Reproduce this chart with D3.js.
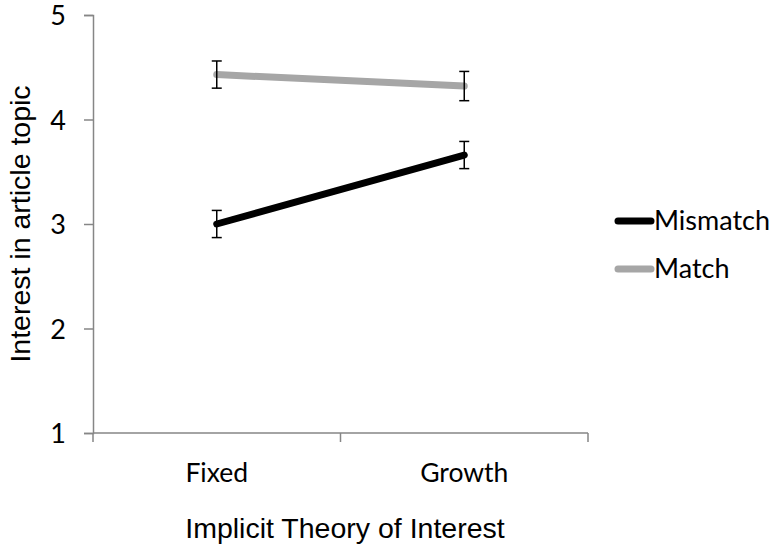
<!DOCTYPE html>
<html>
<head>
<meta charset="utf-8">
<script src="https://cdn.jsdelivr.net/npm/d3@7"></script>
<style>
  body { margin: 0; background: white; }
  text { fill: #000; }
</style>
</head>
<body>
<svg id="chart" width="773" height="548"></svg>
<script>
// chart values
const categories = ['Fixed', 'Growth']
const seriesNames = ['Mismatch', 'Match']
const mismatchMeans = [3.0, 3.66]
const mismatchErrors = [0.13, 0.13]
const matchMeans = [4.43, 4.32]
const matchErrors = [0.13, 0.14]
const yTicks = [1, 2, 3, 4, 5]

const series = [
  { name: seriesNames[0], means: mismatchMeans, errors: mismatchErrors, color: '#000000' },
  { name: seriesNames[1], means: matchMeans, errors: matchErrors, color: '#a6a6a6' }
]

const svg = d3.select('#chart')
const plotLeft = 93
const plotRight = 588
const plotTop = 15
const plotBottom = 433
const labelFont = 'Lato, sans-serif'
const titleFont = "'Liberation Sans', Arial, sans-serif"

const x = d3.scaleBand().domain(categories).range([plotLeft, plotRight])
const y = d3.scaleLinear().domain([1, 5]).range([plotBottom, plotTop])
const axisColor = '#868686'

// y axis
const yAxis = svg.append('g')
  .attr('transform', `translate(${plotLeft},0)`)
  .call(d3.axisLeft(y).tickValues(yTicks).tickSize(9).tickPadding(18).tickFormat(d3.format('d')))
yAxis.select('.domain').attr('stroke', axisColor).attr('stroke-width', 1.5)
yAxis.selectAll('.tick line').attr('stroke', axisColor).attr('stroke-width', 1.5)
yAxis.selectAll('.tick text')
  .attr('font-size', 27)
  .attr('font-family', labelFont)
  .attr('fill', '#000')
  .attr('dy', '0.36em')

// x axis, ticks on the band edges
const xAxis = svg.append('g').attr('transform', `translate(0,${plotBottom})`)
xAxis.append('line')
  .attr('x1', plotLeft).attr('x2', plotRight)
  .attr('stroke', axisColor).attr('stroke-width', 1.5)
const edges = [plotLeft].concat(categories.map(c => x(c) + x.bandwidth()))
xAxis.selectAll('.xtick')
  .data(edges)
  .enter()
  .append('line')
  .attr('x1', d => d).attr('x2', d => d)
  .attr('y1', 0).attr('y2', 9)
  .attr('stroke', axisColor).attr('stroke-width', 1.5)
xAxis.selectAll('.xlabel')
  .data(categories)
  .enter()
  .append('text')
  .attr('x', d => x(d) + x.bandwidth() / 2)
  .attr('y', 49)
  .attr('text-anchor', 'middle')
  .attr('font-family', labelFont)
  .attr('font-size', 26.5)
  .text(d => d)

// axis titles
svg.append('text')
  .attr('x', 345).attr('y', 538)
  .attr('text-anchor', 'middle')
  .attr('font-family', titleFont)
  .attr('font-size', 28.5)
  .text('Implicit Theory of Interest')
svg.append('text')
  .attr('transform', 'translate(30,224) rotate(-90)')
  .attr('text-anchor', 'middle')
  .attr('font-family', titleFont)
  .attr('font-size', 28.5)
  .text('Interest in article topic')

// lines
const line = d3.line()
  .x((d, i) => x(categories[i]) + x.bandwidth() / 2)
  .y(d => y(d))

series.forEach(s => {
  svg.append('path')
    .datum(s.means)
    .attr('d', line)
    .attr('fill', 'none')
    .attr('stroke', s.color)
    .attr('stroke-width', 7)
    .attr('stroke-linecap', 'round')
})

// error bars
series.forEach(s => {
  const g = svg.append('g')
  s.means.forEach((m, i) => {
    const cx = x(categories[i]) + x.bandwidth() / 2
    const y0 = y(m - s.errors[i])
    const y1 = y(m + s.errors[i])
    g.append('line').attr('x1', cx).attr('x2', cx).attr('y1', y0).attr('y2', y1)
      .attr('stroke', '#000').attr('stroke-width', 1.5)
    g.append('line').attr('x1', cx - 5).attr('x2', cx + 5).attr('y1', y0).attr('y2', y0)
      .attr('stroke', '#000').attr('stroke-width', 1.5)
    g.append('line').attr('x1', cx - 5).attr('x2', cx + 5).attr('y1', y1).attr('y2', y1)
      .attr('stroke', '#000').attr('stroke-width', 1.5)
  })
})

// legend
const legend = svg.append('g')
series.forEach((s, i) => {
  const ly = 221 + i * 48
  legend.append('line')
    .attr('x1', 618).attr('x2', 651)
    .attr('y1', ly).attr('y2', ly)
    .attr('stroke', s.color)
    .attr('stroke-width', 7)
    .attr('stroke-linecap', 'round')
  legend.append('text')
    .attr('x', 654).attr('y', ly + 9)
    .attr('font-family', labelFont)
    .attr('font-size', 27)
    .text(s.name)
})
</script>
</body>
</html>
